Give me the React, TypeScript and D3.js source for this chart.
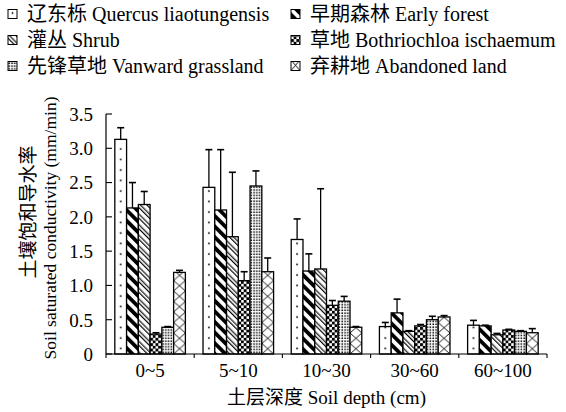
import React from "react";
import * as d3 from "d3";

const categories = ["0~5", "5~10", "10~30", "30~60", "60~100"];
const seriesKeys = ["quercus", "early", "shrub", "both", "vanward", "abandoned"];
const seriesLabels = [
  "辽东栎 Quercus liaotungensis",
  "早期森林 Early forest",
  "灌丛 Shrub",
  "草地 Bothriochloa ischaemum",
  "先锋草地 Vanward grassland",
  "弃耕地 Abandoned land",
];
const quercus = [3.13, 2.43, 1.67, 0.4, 0.42];
const quercusErr = [0.17, 0.55, 0.3, 0.06, 0.07];
const early = [2.13, 2.1, 1.21, 0.6, 0.41];
const earlyErr = [0.37, 0.88, 0.25, 0.2, 0.01];
const shrub = [2.18, 1.71, 1.24, 0.33, 0.28];
const shrubErr = [0.19, 0.94, 1.17, 0.01, 0.02];
const both = [0.29, 1.07, 0.71, 0.41, 0.35];
const bothErr = [0.02, 0.13, 0.07, 0.02, 0.01];
const vanward = [0.39, 2.45, 0.77, 0.5, 0.33];
const vanwardErr = [0.01, 0.22, 0.07, 0.05, 0.01];
const abandoned = [1.19, 1.2, 0.39, 0.54, 0.31];
const abandonedErr = [0.03, 0.2, 0.01, 0.02, 0.06];
const yTicks = [0, 0.5, 1, 1.5, 2, 2.5, 3, 3.5];

const values = [quercus, early, shrub, both, vanward, abandoned];
const errors = [quercusErr, earlyErr, shrubErr, bothErr, vanwardErr, abandonedErr];

const W = 566;
const H = 412;
const M = { left: 106, right: 19, top: 114, bottom: 58 };
const FONT = "'Liberation Serif', 'Times New Roman', 'Noto Sans CJK SC', serif";

function PatternDef({ id, k, x, y, w }: { id: string; k: string; x: number; y: number; w: number }) {
  if (k === "quercus")
    return (
      <pattern id={id} patternUnits="userSpaceOnUse" x={x} y={y} width={w} height={10.5}>
        <rect width={w} height={10.5} fill="#fff" />
        <circle cx={w / 2} cy={5} r={0.9} fill="#000" />
      </pattern>
    );
  if (k === "abandoned")
    return (
      <pattern id={id} patternUnits="userSpaceOnUse" x={x} y={y} width={w} height={10.5}>
        <rect width={w} height={10.5} fill="#fff" />
        <g stroke="#000" strokeWidth={0.9}>
          <line x1={0} y1={0} x2={w} y2={10.5} />
          <line x1={w} y1={0} x2={0} y2={10.5} />
        </g>
      </pattern>
    );
  if (k === "early")
    return (
      <pattern id={id} patternUnits="userSpaceOnUse" x={x} y={y} width={7.5} height={7.5} patternTransform="rotate(-45)">
        <rect width={7.5} height={7.5} fill="#fff" />
        <rect width={3.8} height={7.5} fill="#000" />
      </pattern>
    );
  if (k === "shrub")
    return (
      <pattern id={id} patternUnits="userSpaceOnUse" x={x} y={y} width={7.5} height={7.5} patternTransform="rotate(-45)">
        <rect width={7.5} height={7.5} fill="#fff" />
        <rect x={0} width={1.2} height={7.5} fill="#000" />
        <rect x={3} width={1.1} height={7.5} fill="#000" />
      </pattern>
    );
  if (k === "both")
    return (
      <pattern id={id} patternUnits="userSpaceOnUse" x={x} y={y} width={5.4} height={5.4}>
        <rect width={5.4} height={5.4} fill="#fff" />
        <rect x={0} y={0} width={2.9} height={2.9} fill="#000" />
        <rect x={2.7} y={2.7} width={2.9} height={2.9} fill="#000" />
      </pattern>
    );
  return (
    <pattern id={id} patternUnits="userSpaceOnUse" x={x} y={y} width={2.8} height={2.8}>
      <rect width={2.8} height={2.8} fill="#fff" />
      <rect x={0.4} y={0.4} width={1.5} height={1.5} fill="#000" />
    </pattern>
  );
}

export default function App() {
  const x0 = d3
    .scaleBand<string>()
    .domain(categories)
    .range([M.left, W - M.right])
    .padding(0);
  const x1 = d3
    .scaleBand<string>()
    .domain(seriesKeys)
    .range([x0.bandwidth() * 0.1, x0.bandwidth() * 0.9])
    .padding(0);
  const y = d3.scaleLinear().domain([0, 3.5]).range([H - M.bottom, M.top]);
  const bw = x1.bandwidth();
  const base = y(0);

  const bars: any[] = [];
  const defs: any[] = [];
  categories.forEach((c, ci) => {
    seriesKeys.forEach((k, si) => {
      const bx = (x0(c) as number) + (x1(k) as number);
      const id = `p-${ci}-${si}`;
      defs.push(<PatternDef key={id} id={id} k={k} x={bx} y={base} w={bw} />);
      const v = values[si][ci];
      const e = errors[si][ci];
      const top = y(v);
      const cx = bx + bw / 2;
      bars.push(
        <g key={id}>
          <rect x={bx} y={top} width={bw} height={base - top} fill={`url(#${id})`} stroke="#000" strokeWidth={1.3} />
          <line x1={cx} x2={cx} y1={top} y2={y(v + e)} stroke="#000" strokeWidth={1.3} />
          <line x1={cx - 3.5} x2={cx + 3.5} y1={y(v + e)} y2={y(v + e)} stroke="#000" strokeWidth={1.6} />
        </g>
      );
    });
  });

  const legendCols = [8, 291];
  const legendRows = [14, 40, 66];
  const legendItems = seriesKeys.map((k, i) => {
    const col = legendCols[i % 2];
    const row = legendRows[Math.floor(i / 2)];
    const id = `lg-${i}`;
    return { k, i, col, row, id };
  });

  const midY = (y(3.5) + base) / 2;

  return (
    <svg width={W} height={H} style={{ position: "absolute", left: 0, top: 0, background: "#fff" }} fontFamily={FONT}>
      <defs>
        {defs}
        {legendItems.map((d) => (
          <PatternDef key={d.id} id={d.id} k={d.k} x={d.col} y={d.row + 4.5} w={9} />
        ))}
      </defs>
      <rect width={W} height={H} fill="#fff" />
      {legendItems.map((d) => (
        <g key={d.id}>
          <rect x={d.col} y={d.row - 4.5} width={9} height={9} fill={`url(#${d.id})`} stroke="#000" strokeWidth={1} />
          <text x={d.col + 19} y={d.row} dy="0.36em" fontSize={20}>
            {seriesLabels[d.i]}
          </text>
        </g>
      ))}
      {bars}
      {/* y axis */}
      <line x1={M.left} x2={M.left} y1={y(3.5)} y2={base} stroke="#000" strokeWidth={1.2} />
      {yTicks.map((t) => (
        <g key={t}>
          <line x1={M.left} x2={M.left + 6} y1={y(t)} y2={y(t)} stroke="#000" strokeWidth={1.1} />
          <text x={M.left - 13} y={y(t)} dy="0.36em" textAnchor="end" fontSize={19}>
            {t === 0 ? "0" : d3.format(".1f")(t)}
          </text>
        </g>
      ))}
      {/* x axis */}
      <line x1={M.left} x2={W - M.right} y1={base} y2={base} stroke="#000" strokeWidth={1.2} />
      {[...categories.map((c) => x0(c) as number), W - M.right].map((t, i) => (
        <line key={i} x1={t} x2={t} y1={base} y2={base + 4} stroke="#000" strokeWidth={1.1} />
      ))}
      {categories.map((c) => (
        <text key={c} x={(x0(c) as number) + x0.bandwidth() / 2} y={base + 23} textAnchor="middle" fontSize={19}>
          {c}
        </text>
      ))}
      <text x={(M.left + W - M.right) / 2} y={H - 8} textAnchor="middle" fontSize={19}>
        土层深度 Soil depth (cm)
      </text>
      <text transform={`translate(28, ${midY - 22}) rotate(-90)`} textAnchor="middle" dy="0.36em" fontSize={19}>
        土壤饱和导水率
      </text>
      <text transform={`translate(50, ${midY - 6}) rotate(-90)`} textAnchor="middle" dy="0.36em" fontSize={17.5}>
        Soil saturated conductivity (mm/min)
      </text>
    </svg>
  );
}
